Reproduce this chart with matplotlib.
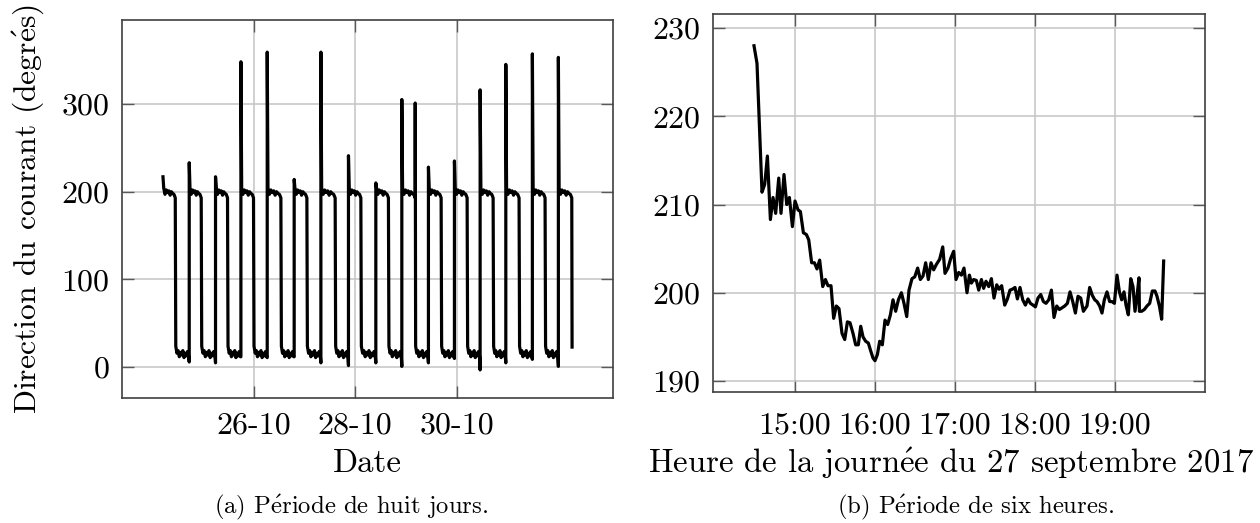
import numpy as np
import matplotlib
matplotlib.use('Agg')
import matplotlib.pyplot as plt

# Computer Modern look, accents through mathtext
plt.rcParams['font.family'] = ['cmr10', 'DejaVu Serif']
plt.rcParams['mathtext.fontset'] = 'cm'
plt.rcParams['axes.unicode_minus'] = False
plt.rcParams['axes.formatter.use_mathtext'] = True
E = r'$\mathrm{\acute{e}}$'

#----- (a) eight days: day of October (32 = 1 Nov) -----
rise_day = [24.217, 24.734, 25.252, 25.752, 26.270, 26.801, 27.327, 27.870,
            28.409, 28.921, 29.445, 29.957, 30.463, 30.969, 31.492, 32.004]
rise_peak = [217, 233, 217, 348, 359, 214, 359, 241,
             210, 305, 228, 235, 316, 345, 357, 353]
fall_day = [24.459, 24.970, 25.488, 26.000, 26.539, 27.051, 27.608, 28.114,
            28.657, 29.183, 29.695, 30.207, 30.719, 31.230, 31.742, 32.268]
fall_peak = [0, 0, 0, 0, 0, 0, 0, 0, 0, 301, 0, 0, 0, 0, 0, 0]
low_end = [6, 5, 12, 11, 12, 5, 2, 5, 1, 5, 10, -3, 5, 9, 1]
last_value = 23

high_shape = [204, 197, 202, 199, 201, 196, 200, 198, 197, 193]
low_shape = [24, 16, 19, 12, 17, 14, 19, 11, 16, 13, 18, 12]

date_ticks = [26, 28, 30]
date_labels = ['26-10', '28-10', '30-10']

#----- (b) six hours: minutes after 14:00, 27 Sept 2017 -----
minutes = [29.25, 31.5, 33.3, 35.25, 37.3, 39.3, 41.55, 43.5, 45.5, 47.8,
           49.5, 51.75, 53.8, 55.8, 58.05, 60, 62.25, 64.05, 66.3, 68.55,
           70.3, 72.5, 74.55, 76.5, 78.5, 80.8, 82.8, 84.75, 87, 89,
           91, 93, 95.25, 97.3, 99.3, 101.25, 103.5, 105.5, 107.5, 109.3,
           111, 113, 115, 116.8, 118.5, 120, 121.8, 123.5, 125.5, 127.5,
           129.5, 131.55, 133.5, 135.5, 137.55, 139.8, 141.75, 143.8, 145.5, 147.75,
           149.8, 152, 154, 156, 158, 160, 162, 164, 166, 168.5,
           170.8, 172.5, 174.75, 176.8, 179, 180.75, 182.8, 184.8, 186.75, 189,
           190.8, 192.3, 194, 196, 197.8, 199.8, 201.5, 203.25, 205.3, 207.3,
           209.25, 211.3, 213, 215, 217.3, 219.3, 221.25, 223, 225, 226.8,
           228.75, 230.8, 232.8, 234.75, 236.55, 238.5, 240.3, 242.25, 244.3, 246.3,
           248.25, 250.3, 252.3, 254.25, 256.3, 258.3, 260.25, 262.3, 264.3, 266.25,
           268.3, 270.3, 272.25, 274.3, 276.3, 279, 281, 283, 284.8, 286.5,
           288.5, 290.25, 292, 294, 296, 297.75, 299.55, 301.5, 303.3, 305,
           306.75, 308.25, 310, 311.8, 313.5, 315, 316.5, 318, 318.3, 320,
           322, 324, 326, 328, 330, 331.5, 333.3, 335, 336.5]
direction = [228.0, 226.0, 219.0, 211.4, 212.3, 215.5, 208.3, 210.8, 209.0, 213.0,
             209.0, 213.4, 210.0, 210.8, 207.5, 210.4, 209.4, 209.2, 206.8, 206.6,
             206.0, 203.4, 203.4, 202.7, 203.7, 200.7, 201.5, 200.8, 200.8, 197.1,
             198.5, 198.2, 195.4, 194.7, 196.7, 196.6, 195.4, 194.1, 194.1, 196.2,
             195.0, 194.5, 194.3, 193.4, 192.6, 192.3, 193.0, 194.5, 194.1, 196.9,
             196.4, 197.5, 199.2, 197.9, 199.2, 200.0, 198.8, 197.3, 200.3, 201.6,
             201.8, 202.8, 201.5, 201.9, 203.4, 201.5, 203.4, 202.6, 203.2, 203.8,
             205.2, 202.2, 202.8, 203.9, 204.7, 201.5, 202.3, 202.0, 202.8, 200.0,
             202.0, 201.1, 201.5, 201.4, 200.3, 201.5, 200.5, 201.3, 200.7, 201.6,
             199.4, 200.9, 200.4, 200.8, 198.6, 199.3, 200.3, 200.4, 200.6, 199.3,
             200.6, 199.2, 198.6, 199.3, 198.8, 198.6, 198.4, 199.4, 199.8, 199.0,
             198.8, 199.2, 200.3, 197.2, 198.5, 198.1, 198.3, 198.5, 198.8, 200.1,
             199.0, 197.7, 199.6, 199.4, 197.9, 198.5, 200.6, 199.7, 199.2, 199.0,
             198.5, 197.7, 199.2, 200.1, 199.0, 199.0, 198.8, 202.0, 200.1, 199.2,
             200.1, 198.6, 197.5, 201.6, 200.7, 197.9, 199.6, 201.7, 197.9, 197.9,
             198.1, 198.5, 198.8, 200.2, 200.2, 199.6, 198.5, 197.0, 203.6]

hour_ticks = [60, 120, 180, 240, 300]
hour_labels = ['15:00', '16:00', '17:00', '18:00', '19:00']


def build_trace():
    xs, ys = [], []
    n = len(rise_day)
    for i in range(n):
        r, f = rise_day[i], fall_day[i]
        if i > 0:
            xs.append(r); ys.append(low_end[i-1])
        xs.append(r); ys.append(rise_peak[i])
        xs += list(np.linspace(r + 0.015, f, len(high_shape)))
        ys += high_shape
        if fall_peak[i]:
            xs.append(f + 0.002); ys.append(fall_peak[i])
        if i < n - 1:
            xs += list(np.linspace(f + 0.01, rise_day[i+1] - 0.01, len(low_shape)))
            ys += low_shape
        else:
            xs.append(f + 0.006); ys.append(last_value)
    return xs, ys


def style_axes(ax):
    ax.grid(True, color='#c4c4c4', lw=0.55)
    ax.set_axisbelow(True)
    for s in ax.spines.values():
        s.set_color('0.25')
        s.set_linewidth(0.6)
    ax.tick_params(direction='in', top=True, right=True, length=4.25,
                   width=0.5, color='0.35', labelsize=11.5)


W, H = 1260, 523
FS = 11.8
fig = plt.figure(figsize=(6.3, 2.615), dpi=200)

ax1 = fig.add_axes([122/W, 1 - 398/H, 491/W, 378/H])
xs, ys = build_trace()
ax1.plot(xs, ys, color='black', lw=1.15)
ax1.set_xlim(23.41, 33.08)
ax1.set_ylim(-35, 395.6)
ax1.set_yticks([0, 100, 200, 300])
ax1.set_xticks(date_ticks)
ax1.set_xticklabels(date_labels)
style_axes(ax1)
ax1.tick_params(axis='x', pad=5.0)
ax1.tick_params(axis='y', pad=4.5)

ax2 = fig.add_axes([713/W, 1 - 392/H, 492/W, 378/H])
ax2.plot(minutes, direction, color='black', lw=1.15)
ax2.set_xlim(-1.5, 367.5)
ax2.set_ylim(188.75, 231.6)
ax2.set_yticks([190, 200, 210, 220, 230])
ax2.set_xticks(hour_ticks)
ax2.set_xticklabels(hour_labels)
style_axes(ax2)
ax2.tick_params(axis='x', pad=7.2)
ax2.tick_params(axis='y', pad=4.5)

fig.text(28/W, 1 - 209/H, 'Direction du courant (degr' + E + 's)', rotation=90,
         ha='center', va='center', fontsize=11.4)
fig.text(367/W, 1 - 463/H, 'Date', ha='center', va='center', fontsize=FS)
fig.text(951/W, 1 - 463/H, 'Heure de la journ' + E + 'e du 27 septembre 2017',
         ha='center', va='center', fontsize=FS)
fig.text(351/W, 1 - 507/H, '(a) P' + E + 'riode de huit jours.',
         ha='center', va='center', fontsize=8.9)
fig.text(975/W, 1 - 507/H, '(b) P' + E + 'riode de six heures.',
         ha='center', va='center', fontsize=8.9)

fig.savefig('out.png', dpi=200)
